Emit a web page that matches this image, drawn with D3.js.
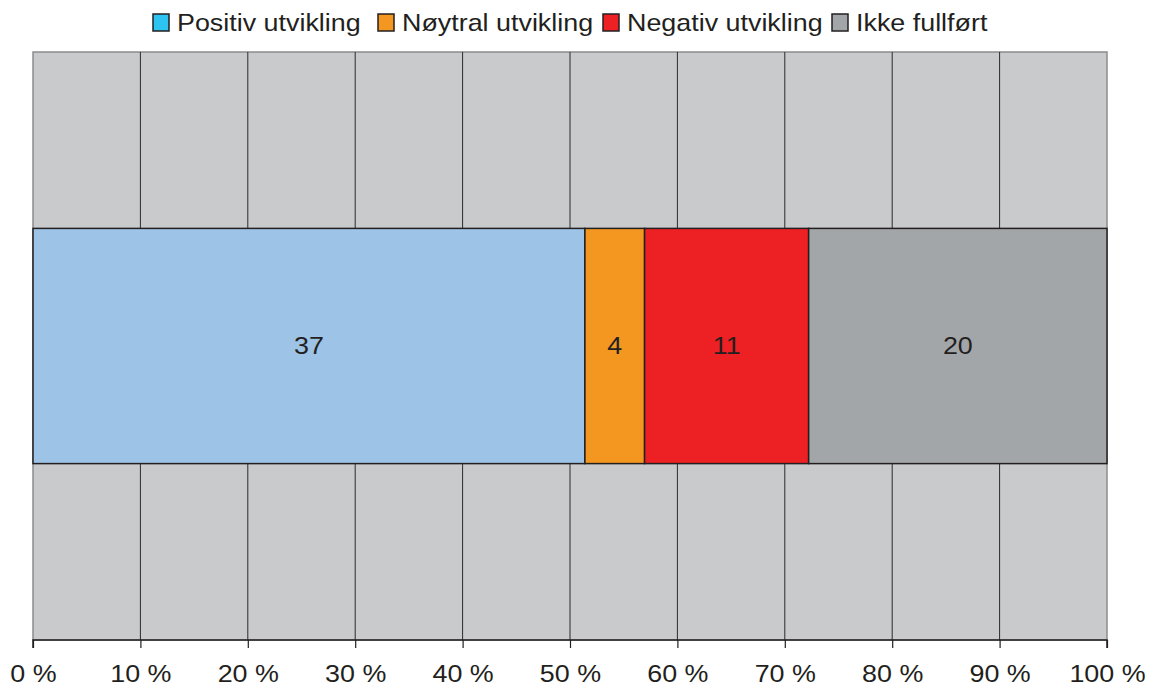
<!DOCTYPE html>
<html>
<head>
<meta charset="utf-8">
<script src="https://cdn.jsdelivr.net/npm/d3@7"></script>
<style>
  body { margin: 0; background: #fff; }
  text { font-family: "Liberation Sans", Arial, sans-serif; fill: #231f20; }
</style>
</head>
<body>
<script>
const width = 1149;
const height = 687;

// data
const categories = ['Positiv utvikling', 'Nøytral utvikling', 'Negativ utvikling', 'Ikke fullført'];
const counts = [37, 4, 11, 20];
const barColors = ['#9dc3e6', '#f39720', '#ed2024', '#a3a6a9'];
const legendColors = ['#2ec4f1', '#f39720', '#ed2024', '#a3a6a9'];
const tickValues = [0, 0.1, 0.2, 0.3, 0.4, 0.5, 0.6, 0.7, 0.8, 0.9, 1];

const margin = { top: 52, left: 33, right: 42, bottom: 47 };
const plotW = width - margin.left - margin.right;
const plotH = height - margin.top - margin.bottom;
const stretch = 'scale(1.12,1)';

const total = d3.sum(counts);
let acc = 0;
const segments = counts.map((c, i) => {
    const s = { name: categories[i], value: c, x0: acc / total, x1: (acc + c) / total, color: barColors[i] };
    acc += c;
    return s;
});

const xScale = d3.scaleLinear().domain([0, 1]).range([0, plotW]);
const yScale = d3.scaleBand().domain(['row']).range([0, plotH]).paddingInner(0).paddingOuter(0.75);

const svg = d3.select('body')
    .append('svg')
    .attr('width', width)
    .attr('height', height);

const g = svg.append('g')
    .attr('transform', `translate(${margin.left}, ${margin.top})`);

// plot background
g.append('rect')
    .attr('x', 0).attr('y', 0)
    .attr('width', plotW).attr('height', plotH)
    .attr('fill', '#c9cacc')
    .attr('stroke', '#8c8c8c')
    .attr('stroke-width', 1.5);

// gridlines
g.selectAll('.grid')
    .data(tickValues.slice(1, -1))
    .enter()
    .append('line')
    .attr('class', 'grid')
    .attr('x1', d => xScale(d)).attr('x2', d => xScale(d))
    .attr('y1', 0).attr('y2', plotH)
    .attr('stroke', '#2b2b2b')
    .attr('stroke-width', 1);

// bar segments
g.selectAll('.seg')
    .data(segments)
    .enter()
    .append('rect')
    .attr('class', 'seg')
    .attr('x', d => xScale(d.x0))
    .attr('y', yScale('row'))
    .attr('width', d => xScale(d.x1) - xScale(d.x0))
    .attr('height', yScale.bandwidth())
    .attr('fill', d => d.color)
    .attr('stroke', '#231f20')
    .attr('stroke-width', 1.5);

g.selectAll('.lbl')
    .data(segments)
    .enter()
    .append('text')
    .attr('class', 'lbl')
    .attr('transform', d => `translate(${xScale((d.x0 + d.x1) / 2)}, ${yScale('row') + yScale.bandwidth() / 2}) ${stretch}`)
    .attr('dy', '0.35em')
    .attr('text-anchor', 'middle')
    .style('font-size', '24px')
    .text(d => d.value);

// x axis
const xAxis = d3.axisBottom(xScale)
    .tickValues(tickValues)
    .tickSize(8)
    .tickFormat(d => Math.round(d * 100) + ' %');

const ax = g.append('g')
    .attr('transform', `translate(0, ${plotH})`)
    .call(xAxis);
ax.select('.domain').attr('stroke', '#231f20').attr('stroke-width', 1.5).attr('d', `M0,8V0H${plotW}V8`);
ax.selectAll('.tick line').attr('stroke', '#231f20').attr('stroke-width', 1.2);
ax.selectAll('.tick text')
    .attr('y', 0)
    .attr('dy', 0)
    .attr('transform', `translate(0, 42) ${stretch}`)
    .style('font-size', '24px')
    .style('font-family', '"Liberation Sans", Arial, sans-serif')
    .attr('fill', '#231f20');

// legend
const legendX = [153, 378, 603, 832];
const legend = svg.append('g');
const items = legend.selectAll('.leg')
    .data(categories)
    .enter()
    .append('g')
    .attr('transform', (d, i) => `translate(${legendX[i]}, 14)`);
items.append('rect')
    .attr('x', 0).attr('y', 0)
    .attr('width', 16).attr('height', 17)
    .attr('fill', (d, i) => legendColors[i])
    .attr('stroke', '#231f20')
    .attr('stroke-width', 1.5);
items.append('text')
    .attr('transform', `translate(24, 17) ${stretch}`)
    .style('font-size', '24px')
    .text(d => d);
</script>
</body>
</html>
